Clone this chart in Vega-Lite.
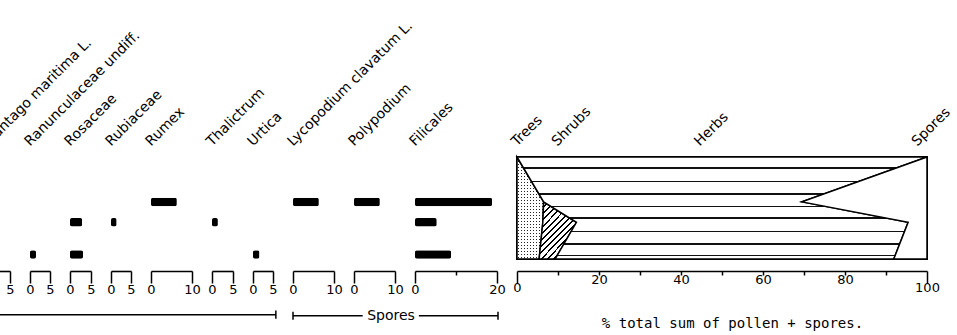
{
  "$schema": "https://vega.github.io/schema/vega-lite/v6.json",
  "padding": {"left": -19, "top": 18, "right": 0, "bottom": 0},
  "bounds": "flush",
  "spacing": 20,
  "background": "white",
  "datasets": {
    "bars": [
      {"taxon": "Ranunculaceae undiff.", "depth": 95.5, "pct": 1.5},
      {"taxon": "Rosaceae", "depth": 64, "pct": 2.9},
      {"taxon": "Rosaceae", "depth": 95.5, "pct": 3.1},
      {"taxon": "Rubiaceae", "depth": 64, "pct": 1.4},
      {"taxon": "Rumex", "depth": 44, "pct": 6.3},
      {"taxon": "Thalictrum", "depth": 64, "pct": 1.4},
      {"taxon": "Urtica", "depth": 95.5, "pct": 1.6},
      {"taxon": "Lycopodium clavatum L.", "depth": 44, "pct": 6.3},
      {"taxon": "Polypodium", "depth": 44, "pct": 6.3},
      {"taxon": "Filicales", "depth": 44, "pct": 18.8},
      {"taxon": "Filicales", "depth": 64, "pct": 5.3},
      {"taxon": "Filicales", "depth": 95.5, "pct": 8.8}
    ],
    "taxa": [
      {"taxon": "Plantago maritima L."},
      {"taxon": "Ranunculaceae undiff."},
      {"taxon": "Rosaceae"},
      {"taxon": "Rubiaceae"},
      {"taxon": "Rumex"},
      {"taxon": "Thalictrum"},
      {"taxon": "Urtica"},
      {"taxon": "Lycopodium clavatum L."},
      {"taxon": "Polypodium"},
      {"taxon": "Filicales"}
    ],
    "summary": [
      {"depth": 0, "group": "Trees", "order": 1, "pct": 0},
      {"depth": 0, "group": "Herbs", "order": 3, "pct": 100},
      {"depth": 0, "group": "Spores", "order": 4, "pct": 0},
      {"depth": 44, "group": "Trees", "order": 1, "pct": 6.5},
      {"depth": 44, "group": "Shrubs", "order": 2, "pct": 0},
      {"depth": 44, "group": "Herbs", "order": 3, "pct": 63},
      {"depth": 44, "group": "Spores", "order": 4, "pct": 30.5},
      {"depth": 64, "group": "Trees", "order": 1, "pct": 6.3},
      {"depth": 64, "group": "Shrubs", "order": 2, "pct": 8.2},
      {"depth": 64, "group": "Herbs", "order": 3, "pct": 80.9},
      {"depth": 64, "group": "Spores", "order": 4, "pct": 4.6},
      {"depth": 100, "group": "Trees", "order": 1, "pct": 5.4},
      {"depth": 100, "group": "Shrubs", "order": 2, "pct": 3.9},
      {"depth": 100, "group": "Herbs", "order": 3, "pct": 82.6},
      {"depth": 100, "group": "Spores", "order": 4, "pct": 8.1}
    ],
    "groups": [
      {"group": "Trees"}, {"group": "Shrubs"}, {"group": "Herbs"}, {"group": "Spores"}
    ]
  },
  "hconcat": [
    {
      "width": 21, "height": 102,
      "layer": [
        {"data": {"name": "bars"}, "transform": [{"filter": "datum.taxon == 'Plantago maritima L.'"}], "mark": {"type": "bar", "orient": "horizontal", "size": 8.5, "color": "black", "cornerRadius": 2},
          "encoding": {
            "x": {"field": "pct", "type": "quantitative", "scale": {"domain": [0, 5]},
              "axis": {"title": null, "values": [0, 5], "tickSize": {"condition": {"test": "datum.value == 0 || datum.value == 5", "value": 12}, "value": 4}, "labelExpr": "datum.value == 5 ? datum.label : ''"}},
            "y": {"field": "depth", "type": "quantitative", "scale": {"domain": [0, 100], "reverse": true, "padding": 0}, "axis": null}}},
        {"data": {"name": "taxa"}, "transform": [{"filter": "datum.taxon == 'Plantago maritima L.'"}], "mark": {"type": "text", "angle": -45, "align": "left", "baseline": "alphabetic"},
          "encoding": {"x": {"datum": 0, "type": "quantitative", "scale": {"domain": [0, 5]}}, "y": {"datum": -10, "type": "quantitative", "scale": {"domain": [0, 100], "reverse": true, "padding": 0}}, "text": {"field": "taxon"}}},
        {"data": {"name": "taxa"}, "transform": [{"filter": "datum.taxon == 'Plantago maritima L.'"}], "mark": {"type": "rule", "color": "black", "strokeWidth": 1.5},
          "encoding": {"x": {"datum": 0, "type": "quantitative", "scale": {"domain": [0, 5]}}, "x2": {"datum": 68.3}, "y": {"datum": 154.6, "type": "quantitative", "scale": {"domain": [0, 100], "reverse": true, "padding": 0}}}},
        {"data": {"name": "taxa"}, "transform": [{"filter": "datum.taxon == 'Plantago maritima L.'"}], "mark": {"type": "rule", "color": "black", "strokeWidth": 1.5},
          "encoding": {"x": {"datum": 68.3, "type": "quantitative", "scale": {"domain": [0, 5]}}, "y": {"datum": 150.6, "type": "quantitative", "scale": {"domain": [0, 100], "reverse": true, "padding": 0}}, "y2": {"datum": 158.6}}}
      ]
    },
    {
      "width": 20, "height": 102,
      "layer": [
        {"data": {"name": "bars"}, "transform": [{"filter": "datum.taxon == 'Ranunculaceae undiff.'"}], "mark": {"type": "bar", "orient": "horizontal", "size": 8.5, "color": "black", "cornerRadius": 2},
          "encoding": {
            "x": {"field": "pct", "type": "quantitative", "scale": {"domain": [0, 5]},
              "axis": {"title": null, "values": [0, 5], "tickSize": {"condition": {"test": "datum.value == 0 || datum.value == 5", "value": 12}, "value": 4}}},
            "y": {"field": "depth", "type": "quantitative", "scale": {"domain": [0, 100], "reverse": true, "padding": 0}, "axis": null}}},
        {"data": {"name": "taxa"}, "transform": [{"filter": "datum.taxon == 'Ranunculaceae undiff.'"}], "mark": {"type": "text", "angle": -45, "align": "left", "baseline": "alphabetic"},
          "encoding": {"x": {"datum": 0, "type": "quantitative", "scale": {"domain": [0, 5]}}, "y": {"datum": -10, "type": "quantitative", "scale": {"domain": [0, 100], "reverse": true, "padding": 0}}, "text": {"field": "taxon"}}}
      ]
    },
    {
      "width": 21, "height": 102,
      "layer": [
        {"data": {"name": "bars"}, "transform": [{"filter": "datum.taxon == 'Rosaceae'"}], "mark": {"type": "bar", "orient": "horizontal", "size": 8.5, "color": "black", "cornerRadius": 2},
          "encoding": {
            "x": {"field": "pct", "type": "quantitative", "scale": {"domain": [0, 5]},
              "axis": {"title": null, "values": [0, 5], "tickSize": {"condition": {"test": "datum.value == 0 || datum.value == 5", "value": 12}, "value": 4}}},
            "y": {"field": "depth", "type": "quantitative", "scale": {"domain": [0, 100], "reverse": true, "padding": 0}, "axis": null}}},
        {"data": {"name": "taxa"}, "transform": [{"filter": "datum.taxon == 'Rosaceae'"}], "mark": {"type": "text", "angle": -45, "align": "left", "baseline": "alphabetic"},
          "encoding": {"x": {"datum": 0, "type": "quantitative", "scale": {"domain": [0, 5]}}, "y": {"datum": -10, "type": "quantitative", "scale": {"domain": [0, 100], "reverse": true, "padding": 0}}, "text": {"field": "taxon"}}}
      ]
    },
    {
      "width": 20, "height": 102,
      "layer": [
        {"data": {"name": "bars"}, "transform": [{"filter": "datum.taxon == 'Rubiaceae'"}], "mark": {"type": "bar", "orient": "horizontal", "size": 8.5, "color": "black", "cornerRadius": 2},
          "encoding": {
            "x": {"field": "pct", "type": "quantitative", "scale": {"domain": [0, 5]},
              "axis": {"title": null, "values": [0, 5], "tickSize": {"condition": {"test": "datum.value == 0 || datum.value == 5", "value": 12}, "value": 4}}},
            "y": {"field": "depth", "type": "quantitative", "scale": {"domain": [0, 100], "reverse": true, "padding": 0}, "axis": null}}},
        {"data": {"name": "taxa"}, "transform": [{"filter": "datum.taxon == 'Rubiaceae'"}], "mark": {"type": "text", "angle": -45, "align": "left", "baseline": "alphabetic"},
          "encoding": {"x": {"datum": 0, "type": "quantitative", "scale": {"domain": [0, 5]}}, "y": {"datum": -10, "type": "quantitative", "scale": {"domain": [0, 100], "reverse": true, "padding": 0}}, "text": {"field": "taxon"}}}
      ]
    },
    {
      "width": 41, "height": 102,
      "layer": [
        {"data": {"name": "bars"}, "transform": [{"filter": "datum.taxon == 'Rumex'"}], "mark": {"type": "bar", "orient": "horizontal", "size": 8.5, "color": "black", "cornerRadius": 2},
          "encoding": {
            "x": {"field": "pct", "type": "quantitative", "scale": {"domain": [0, 10]},
              "axis": {"title": null, "values": [0, 5, 10], "tickSize": {"condition": {"test": "datum.value == 0 || datum.value == 10", "value": 12}, "value": 4}, "labelExpr": "datum.value == 5 ? '' : datum.label"}},
            "y": {"field": "depth", "type": "quantitative", "scale": {"domain": [0, 100], "reverse": true, "padding": 0}, "axis": null}}},
        {"data": {"name": "taxa"}, "transform": [{"filter": "datum.taxon == 'Rumex'"}], "mark": {"type": "text", "angle": -45, "align": "left", "baseline": "alphabetic"},
          "encoding": {"x": {"datum": 0, "type": "quantitative", "scale": {"domain": [0, 10]}}, "y": {"datum": -10, "type": "quantitative", "scale": {"domain": [0, 100], "reverse": true, "padding": 0}}, "text": {"field": "taxon"}}}
      ]
    },
    {
      "width": 21, "height": 102,
      "layer": [
        {"data": {"name": "bars"}, "transform": [{"filter": "datum.taxon == 'Thalictrum'"}], "mark": {"type": "bar", "orient": "horizontal", "size": 8.5, "color": "black", "cornerRadius": 2},
          "encoding": {
            "x": {"field": "pct", "type": "quantitative", "scale": {"domain": [0, 5]},
              "axis": {"title": null, "values": [0, 5], "tickSize": {"condition": {"test": "datum.value == 0 || datum.value == 5", "value": 12}, "value": 4}}},
            "y": {"field": "depth", "type": "quantitative", "scale": {"domain": [0, 100], "reverse": true, "padding": 0}, "axis": null}}},
        {"data": {"name": "taxa"}, "transform": [{"filter": "datum.taxon == 'Thalictrum'"}], "mark": {"type": "text", "angle": -45, "align": "left", "baseline": "alphabetic"},
          "encoding": {"x": {"datum": 0, "type": "quantitative", "scale": {"domain": [0, 5]}}, "y": {"datum": -10, "type": "quantitative", "scale": {"domain": [0, 100], "reverse": true, "padding": 0}}, "text": {"field": "taxon"}}}
      ]
    },
    {
      "width": 20, "height": 102,
      "layer": [
        {"data": {"name": "bars"}, "transform": [{"filter": "datum.taxon == 'Urtica'"}], "mark": {"type": "bar", "orient": "horizontal", "size": 8.5, "color": "black", "cornerRadius": 2},
          "encoding": {
            "x": {"field": "pct", "type": "quantitative", "scale": {"domain": [0, 5]},
              "axis": {"title": null, "values": [0, 5], "tickSize": {"condition": {"test": "datum.value == 0 || datum.value == 5", "value": 12}, "value": 4}}},
            "y": {"field": "depth", "type": "quantitative", "scale": {"domain": [0, 100], "reverse": true, "padding": 0}, "axis": null}}},
        {"data": {"name": "taxa"}, "transform": [{"filter": "datum.taxon == 'Urtica'"}], "mark": {"type": "text", "angle": -45, "align": "left", "baseline": "alphabetic"},
          "encoding": {"x": {"datum": 0, "type": "quantitative", "scale": {"domain": [0, 5]}}, "y": {"datum": -10, "type": "quantitative", "scale": {"domain": [0, 100], "reverse": true, "padding": 0}}, "text": {"field": "taxon"}}}
      ]
    },
    {
      "width": 41, "height": 102,
      "layer": [
        {"data": {"name": "bars"}, "transform": [{"filter": "datum.taxon == 'Lycopodium clavatum L.'"}], "mark": {"type": "bar", "orient": "horizontal", "size": 8.5, "color": "black", "cornerRadius": 2},
          "encoding": {
            "x": {"field": "pct", "type": "quantitative", "scale": {"domain": [0, 10]},
              "axis": {"title": null, "values": [0, 5, 10], "tickSize": {"condition": {"test": "datum.value == 0 || datum.value == 10", "value": 12}, "value": 4}, "labelExpr": "datum.value == 5 ? '' : datum.label"}},
            "y": {"field": "depth", "type": "quantitative", "scale": {"domain": [0, 100], "reverse": true, "padding": 0}, "axis": null}}},
        {"data": {"name": "taxa"}, "transform": [{"filter": "datum.taxon == 'Lycopodium clavatum L.'"}], "mark": {"type": "text", "angle": -45, "align": "left", "baseline": "alphabetic"},
          "encoding": {"x": {"datum": 0, "type": "quantitative", "scale": {"domain": [0, 10]}}, "y": {"datum": -10, "type": "quantitative", "scale": {"domain": [0, 100], "reverse": true, "padding": 0}}, "text": {"field": "taxon"}}},
        {"data": {"name": "taxa"}, "transform": [{"filter": "datum.taxon == 'Lycopodium clavatum L.'"}], "mark": {"type": "rule", "color": "black", "strokeWidth": 1.5},
          "encoding": {"x": {"datum": 0, "type": "quantitative", "scale": {"domain": [0, 10]}}, "x2": {"datum": 17}, "y": {"datum": 155.6, "type": "quantitative", "scale": {"domain": [0, 100], "reverse": true, "padding": 0}}}},
        {"data": {"name": "taxa"}, "transform": [{"filter": "datum.taxon == 'Lycopodium clavatum L.'"}], "mark": {"type": "rule", "color": "black", "strokeWidth": 1.5},
          "encoding": {"x": {"datum": 30.7, "type": "quantitative", "scale": {"domain": [0, 10]}}, "x2": {"datum": 50}, "y": {"datum": 155.6, "type": "quantitative", "scale": {"domain": [0, 100], "reverse": true, "padding": 0}}}},
        {"data": {"name": "taxa"}, "transform": [{"filter": "datum.taxon == 'Lycopodium clavatum L.'"}], "mark": {"type": "rule", "color": "black", "strokeWidth": 1.5},
          "encoding": {"x": {"datum": 0, "type": "quantitative", "scale": {"domain": [0, 10]}}, "y": {"datum": 151.7, "type": "quantitative", "scale": {"domain": [0, 100], "reverse": true, "padding": 0}}, "y2": {"datum": 159.5}}},
        {"data": {"name": "taxa"}, "transform": [{"filter": "datum.taxon == 'Lycopodium clavatum L.'"}], "mark": {"type": "rule", "color": "black", "strokeWidth": 1.5},
          "encoding": {"x": {"datum": 50, "type": "quantitative", "scale": {"domain": [0, 10]}}, "y": {"datum": 151.7, "type": "quantitative", "scale": {"domain": [0, 100], "reverse": true, "padding": 0}}, "y2": {"datum": 159.5}}},
        {"data": {"name": "taxa"}, "transform": [{"filter": "datum.taxon == 'Lycopodium clavatum L.'"}], "mark": {"type": "text", "align": "center", "baseline": "middle"},
          "encoding": {"x": {"datum": 23.9, "type": "quantitative", "scale": {"domain": [0, 10]}}, "y": {"datum": 155.6, "type": "quantitative", "scale": {"domain": [0, 100], "reverse": true, "padding": 0}}, "text": {"value": "Spores"}}}
      ]
    },
    {
      "width": 41, "height": 102,
      "layer": [
        {"data": {"name": "bars"}, "transform": [{"filter": "datum.taxon == 'Polypodium'"}], "mark": {"type": "bar", "orient": "horizontal", "size": 8.5, "color": "black", "cornerRadius": 2},
          "encoding": {
            "x": {"field": "pct", "type": "quantitative", "scale": {"domain": [0, 10]},
              "axis": {"title": null, "values": [0, 5, 10], "tickSize": {"condition": {"test": "datum.value == 0 || datum.value == 10", "value": 12}, "value": 4}, "labelExpr": "datum.value == 5 ? '' : datum.label"}},
            "y": {"field": "depth", "type": "quantitative", "scale": {"domain": [0, 100], "reverse": true, "padding": 0}, "axis": null}}},
        {"data": {"name": "taxa"}, "transform": [{"filter": "datum.taxon == 'Polypodium'"}], "mark": {"type": "text", "angle": -45, "align": "left", "baseline": "alphabetic"},
          "encoding": {"x": {"datum": 0, "type": "quantitative", "scale": {"domain": [0, 10]}}, "y": {"datum": -10, "type": "quantitative", "scale": {"domain": [0, 100], "reverse": true, "padding": 0}}, "text": {"field": "taxon"}}}
      ]
    },
    {
      "width": 82, "height": 102,
      "layer": [
        {"data": {"name": "bars"}, "transform": [{"filter": "datum.taxon == 'Filicales'"}], "mark": {"type": "bar", "orient": "horizontal", "size": 8.5, "color": "black", "cornerRadius": 2},
          "encoding": {
            "x": {"field": "pct", "type": "quantitative", "scale": {"domain": [0, 20]},
              "axis": {"title": null, "values": [0, 5, 10, 15, 20], "tickSize": {"condition": {"test": "datum.value == 0 || datum.value == 20", "value": 12}, "value": 4}, "labelExpr": "datum.value == 0 || datum.value == 20 ? datum.label : ''"}},
            "y": {"field": "depth", "type": "quantitative", "scale": {"domain": [0, 100], "reverse": true, "padding": 0}, "axis": null}}},
        {"data": {"name": "taxa"}, "transform": [{"filter": "datum.taxon == 'Filicales'"}], "mark": {"type": "text", "angle": -45, "align": "left", "baseline": "alphabetic"},
          "encoding": {"x": {"datum": 0, "type": "quantitative", "scale": {"domain": [0, 20]}}, "y": {"datum": -10, "type": "quantitative", "scale": {"domain": [0, 100], "reverse": true, "padding": 0}}, "text": {"field": "taxon"}}}
      ]
    },
    {
      "width": 410, "height": 102,
      "view": {"stroke": "black", "strokeWidth": 2},
      "layer": [
        {"data": {"name": "summary"}, "transform": [{"stack": "pct", "groupby": ["depth"], "sort": [{"field": "order", "order": "ascending"}], "as": ["x0", "x1"]}, {"filter": "datum.group == 'Trees'"}],
          "mark": {"type": "area", "orient": "horizontal",
          "fill": {"gradient": "linear", "x1": 0, "y1": 0, "x2": 0, "y2": 1, "stops": [
            {"offset": 0, "color": "white"},
            {"offset": 0.010, "color": "white"}, {"offset": 0.010, "color": "#222"}, {"offset": 0.022, "color": "#222"}, {"offset": 0.022, "color": "white"},
            {"offset": 0.039, "color": "white"}, {"offset": 0.039, "color": "#222"}, {"offset": 0.051, "color": "#222"}, {"offset": 0.051, "color": "white"},
            {"offset": 0.069, "color": "white"}, {"offset": 0.069, "color": "#222"}, {"offset": 0.081, "color": "#222"}, {"offset": 0.081, "color": "white"},
            {"offset": 0.098, "color": "white"}, {"offset": 0.098, "color": "#222"}, {"offset": 0.110, "color": "#222"}, {"offset": 0.110, "color": "white"},
            {"offset": 0.128, "color": "white"}, {"offset": 0.128, "color": "#222"}, {"offset": 0.140, "color": "#222"}, {"offset": 0.140, "color": "white"},
            {"offset": 0.157, "color": "white"}, {"offset": 0.157, "color": "#222"}, {"offset": 0.169, "color": "#222"}, {"offset": 0.169, "color": "white"},
            {"offset": 0.186, "color": "white"}, {"offset": 0.186, "color": "#222"}, {"offset": 0.198, "color": "#222"}, {"offset": 0.198, "color": "white"},
            {"offset": 0.216, "color": "white"}, {"offset": 0.216, "color": "#222"}, {"offset": 0.228, "color": "#222"}, {"offset": 0.228, "color": "white"},
            {"offset": 0.245, "color": "white"}, {"offset": 0.245, "color": "#222"}, {"offset": 0.257, "color": "#222"}, {"offset": 0.257, "color": "white"},
            {"offset": 0.275, "color": "white"}, {"offset": 0.275, "color": "#222"}, {"offset": 0.287, "color": "#222"}, {"offset": 0.287, "color": "white"},
            {"offset": 0.304, "color": "white"}, {"offset": 0.304, "color": "#222"}, {"offset": 0.316, "color": "#222"}, {"offset": 0.316, "color": "white"},
            {"offset": 0.333, "color": "white"}, {"offset": 0.333, "color": "#222"}, {"offset": 0.345, "color": "#222"}, {"offset": 0.345, "color": "white"},
            {"offset": 0.363, "color": "white"}, {"offset": 0.363, "color": "#222"}, {"offset": 0.375, "color": "#222"}, {"offset": 0.375, "color": "white"},
            {"offset": 0.392, "color": "white"}, {"offset": 0.392, "color": "#222"}, {"offset": 0.404, "color": "#222"}, {"offset": 0.404, "color": "white"},
            {"offset": 0.422, "color": "white"}, {"offset": 0.422, "color": "#222"}, {"offset": 0.434, "color": "#222"}, {"offset": 0.434, "color": "white"},
            {"offset": 0.451, "color": "white"}, {"offset": 0.451, "color": "#222"}, {"offset": 0.463, "color": "#222"}, {"offset": 0.463, "color": "white"},
            {"offset": 0.480, "color": "white"}, {"offset": 0.480, "color": "#222"}, {"offset": 0.492, "color": "#222"}, {"offset": 0.492, "color": "white"},
            {"offset": 0.510, "color": "white"}, {"offset": 0.510, "color": "#222"}, {"offset": 0.522, "color": "#222"}, {"offset": 0.522, "color": "white"},
            {"offset": 0.539, "color": "white"}, {"offset": 0.539, "color": "#222"}, {"offset": 0.551, "color": "#222"}, {"offset": 0.551, "color": "white"},
            {"offset": 0.569, "color": "white"}, {"offset": 0.569, "color": "#222"}, {"offset": 0.581, "color": "#222"}, {"offset": 0.581, "color": "white"},
            {"offset": 0.598, "color": "white"}, {"offset": 0.598, "color": "#222"}, {"offset": 0.610, "color": "#222"}, {"offset": 0.610, "color": "white"},
            {"offset": 0.627, "color": "white"}, {"offset": 0.627, "color": "#222"}, {"offset": 0.639, "color": "#222"}, {"offset": 0.639, "color": "white"},
            {"offset": 0.657, "color": "white"}, {"offset": 0.657, "color": "#222"}, {"offset": 0.669, "color": "#222"}, {"offset": 0.669, "color": "white"},
            {"offset": 0.686, "color": "white"}, {"offset": 0.686, "color": "#222"}, {"offset": 0.698, "color": "#222"}, {"offset": 0.698, "color": "white"},
            {"offset": 0.716, "color": "white"}, {"offset": 0.716, "color": "#222"}, {"offset": 0.728, "color": "#222"}, {"offset": 0.728, "color": "white"},
            {"offset": 0.745, "color": "white"}, {"offset": 0.745, "color": "#222"}, {"offset": 0.757, "color": "#222"}, {"offset": 0.757, "color": "white"},
            {"offset": 0.774, "color": "white"}, {"offset": 0.774, "color": "#222"}, {"offset": 0.786, "color": "#222"}, {"offset": 0.786, "color": "white"},
            {"offset": 0.804, "color": "white"}, {"offset": 0.804, "color": "#222"}, {"offset": 0.816, "color": "#222"}, {"offset": 0.816, "color": "white"},
            {"offset": 0.833, "color": "white"}, {"offset": 0.833, "color": "#222"}, {"offset": 0.845, "color": "#222"}, {"offset": 0.845, "color": "white"},
            {"offset": 0.863, "color": "white"}, {"offset": 0.863, "color": "#222"}, {"offset": 0.875, "color": "#222"}, {"offset": 0.875, "color": "white"},
            {"offset": 0.892, "color": "white"}, {"offset": 0.892, "color": "#222"}, {"offset": 0.904, "color": "#222"}, {"offset": 0.904, "color": "white"},
            {"offset": 0.922, "color": "white"}, {"offset": 0.922, "color": "#222"}, {"offset": 0.934, "color": "#222"}, {"offset": 0.934, "color": "white"},
            {"offset": 0.951, "color": "white"}, {"offset": 0.951, "color": "#222"}, {"offset": 0.963, "color": "#222"}, {"offset": 0.963, "color": "white"},
            {"offset": 0.980, "color": "white"}, {"offset": 0.980, "color": "#222"}, {"offset": 0.992, "color": "#222"}, {"offset": 0.992, "color": "white"},
            {"offset": 1, "color": "white"}
          ]}},
          "encoding": {
            "x": {"field": "x0", "type": "quantitative", "scale": {"domain": [0, 100]},
              "axis": {"title": "% total sum of pollen + spores.", "titleFont": "DejaVu Sans Mono", "titleX": 215, "titlePadding": 22, "labelPadding": -2, "values": [0,5,10,15,20,25,30,35,40,45,50,55,60,65,70,75,80,85,90,95,100], "tickSize": {"condition": {"test": "datum.value == 0 || datum.value == 100", "value": 12}, "value": 4}, "labelExpr": "datum.value % 20 == 0 ? datum.label : ''"}},
            "x2": {"field": "x1"},
            "y": {"field": "depth", "type": "quantitative", "scale": {"domain": [0, 100], "reverse": true, "padding": 0}, "axis": null}}},
        {"data": {"name": "summary"}, "transform": [{"stack": "pct", "groupby": ["depth"], "sort": [{"field": "order", "order": "ascending"}], "as": ["x0", "x1"]}, {"filter": "datum.group == 'Trees'"}],
          "mark": {"type": "area", "orient": "horizontal", "stroke": "black", "strokeWidth": 1.5,
          "fill": {"gradient": "linear", "x1": 0, "y1": 0, "x2": 1, "y2": 0, "stops": [
            {"offset": 0, "color": "white"},
            {"offset": 0.030, "color": "white"}, {"offset": 0.030, "color": "rgba(255,255,255,0)"}, {"offset": 0.075, "color": "rgba(255,255,255,0)"}, {"offset": 0.075, "color": "white"},
            {"offset": 0.143, "color": "white"}, {"offset": 0.143, "color": "rgba(255,255,255,0)"}, {"offset": 0.188, "color": "rgba(255,255,255,0)"}, {"offset": 0.188, "color": "white"},
            {"offset": 0.255, "color": "white"}, {"offset": 0.255, "color": "rgba(255,255,255,0)"}, {"offset": 0.300, "color": "rgba(255,255,255,0)"}, {"offset": 0.300, "color": "white"},
            {"offset": 0.368, "color": "white"}, {"offset": 0.368, "color": "rgba(255,255,255,0)"}, {"offset": 0.413, "color": "rgba(255,255,255,0)"}, {"offset": 0.413, "color": "white"},
            {"offset": 0.480, "color": "white"}, {"offset": 0.480, "color": "rgba(255,255,255,0)"}, {"offset": 0.525, "color": "rgba(255,255,255,0)"}, {"offset": 0.525, "color": "white"},
            {"offset": 0.593, "color": "white"}, {"offset": 0.593, "color": "rgba(255,255,255,0)"}, {"offset": 0.638, "color": "rgba(255,255,255,0)"}, {"offset": 0.638, "color": "white"},
            {"offset": 0.706, "color": "white"}, {"offset": 0.706, "color": "rgba(255,255,255,0)"}, {"offset": 0.751, "color": "rgba(255,255,255,0)"}, {"offset": 0.751, "color": "white"},
            {"offset": 0.818, "color": "white"}, {"offset": 0.818, "color": "rgba(255,255,255,0)"}, {"offset": 0.863, "color": "rgba(255,255,255,0)"}, {"offset": 0.863, "color": "white"},
            {"offset": 0.931, "color": "white"}, {"offset": 0.931, "color": "rgba(255,255,255,0)"}, {"offset": 0.976, "color": "rgba(255,255,255,0)"}, {"offset": 0.976, "color": "white"},
            {"offset": 1, "color": "white"}
          ]}},
          "encoding": {
            "x": {"field": "x0", "type": "quantitative", "scale": {"domain": [0, 100]}},
            "x2": {"field": "x1"},
            "y": {"field": "depth", "type": "quantitative", "scale": {"domain": [0, 100], "reverse": true, "padding": 0}}}},
        {"data": {"name": "summary"}, "transform": [{"stack": "pct", "groupby": ["depth"], "sort": [{"field": "order", "order": "ascending"}], "as": ["x0", "x1"]}, {"filter": "datum.group == 'Shrubs'"}],
          "mark": {"type": "area", "orient": "horizontal", "stroke": "black", "strokeWidth": 1.5,
          "fill": {"gradient": "linear", "x1": 0, "y1": 0, "x2": 1, "y2": 1.5, "stops": [
            {"offset": 0, "color": "white"},
            {"offset": 0.02, "color": "white"}, {"offset": 0.02, "color": "black"}, {"offset": 0.036, "color": "black"}, {"offset": 0.036, "color": "white"},
            {"offset": 0.07, "color": "white"}, {"offset": 0.07, "color": "black"}, {"offset": 0.086, "color": "black"}, {"offset": 0.086, "color": "white"},
            {"offset": 0.12, "color": "white"}, {"offset": 0.12, "color": "black"}, {"offset": 0.136, "color": "black"}, {"offset": 0.136, "color": "white"},
            {"offset": 0.17, "color": "white"}, {"offset": 0.17, "color": "black"}, {"offset": 0.186, "color": "black"}, {"offset": 0.186, "color": "white"},
            {"offset": 0.22, "color": "white"}, {"offset": 0.22, "color": "black"}, {"offset": 0.236, "color": "black"}, {"offset": 0.236, "color": "white"},
            {"offset": 0.27, "color": "white"}, {"offset": 0.27, "color": "black"}, {"offset": 0.286, "color": "black"}, {"offset": 0.286, "color": "white"},
            {"offset": 0.32, "color": "white"}, {"offset": 0.32, "color": "black"}, {"offset": 0.336, "color": "black"}, {"offset": 0.336, "color": "white"},
            {"offset": 0.37, "color": "white"}, {"offset": 0.37, "color": "black"}, {"offset": 0.386, "color": "black"}, {"offset": 0.386, "color": "white"},
            {"offset": 0.42, "color": "white"}, {"offset": 0.42, "color": "black"}, {"offset": 0.436, "color": "black"}, {"offset": 0.436, "color": "white"},
            {"offset": 0.47, "color": "white"}, {"offset": 0.47, "color": "black"}, {"offset": 0.486, "color": "black"}, {"offset": 0.486, "color": "white"},
            {"offset": 0.52, "color": "white"}, {"offset": 0.52, "color": "black"}, {"offset": 0.536, "color": "black"}, {"offset": 0.536, "color": "white"},
            {"offset": 0.57, "color": "white"}, {"offset": 0.57, "color": "black"}, {"offset": 0.586, "color": "black"}, {"offset": 0.586, "color": "white"},
            {"offset": 0.62, "color": "white"}, {"offset": 0.62, "color": "black"}, {"offset": 0.636, "color": "black"}, {"offset": 0.636, "color": "white"},
            {"offset": 0.67, "color": "white"}, {"offset": 0.67, "color": "black"}, {"offset": 0.686, "color": "black"}, {"offset": 0.686, "color": "white"},
            {"offset": 0.72, "color": "white"}, {"offset": 0.72, "color": "black"}, {"offset": 0.736, "color": "black"}, {"offset": 0.736, "color": "white"},
            {"offset": 0.77, "color": "white"}, {"offset": 0.77, "color": "black"}, {"offset": 0.786, "color": "black"}, {"offset": 0.786, "color": "white"},
            {"offset": 1, "color": "white"}
          ]}},
          "encoding": {
            "x": {"field": "x0", "type": "quantitative", "scale": {"domain": [0, 100]}},
            "x2": {"field": "x1"},
            "y": {"field": "depth", "type": "quantitative", "scale": {"domain": [0, 100], "reverse": true, "padding": 0}}}},
        {"data": {"name": "summary"}, "transform": [{"stack": "pct", "groupby": ["depth"], "sort": [{"field": "order", "order": "ascending"}], "as": ["x0", "x1"]}, {"filter": "datum.group == 'Herbs'"}],
          "mark": {"type": "area", "orient": "horizontal", "stroke": "black", "strokeWidth": 1.5,
          "fill": {"gradient": "linear", "x1": 0, "y1": 0, "x2": 0, "y2": 1, "stops": [
            {"offset": 0, "color": "white"},
            {"offset": 0.102, "color": "white"}, {"offset": 0.102, "color": "#111"}, {"offset": 0.114, "color": "#111"}, {"offset": 0.114, "color": "white"},
            {"offset": 0.233, "color": "white"}, {"offset": 0.233, "color": "#111"}, {"offset": 0.245, "color": "#111"}, {"offset": 0.245, "color": "white"},
            {"offset": 0.357, "color": "white"}, {"offset": 0.357, "color": "#111"}, {"offset": 0.369, "color": "#111"}, {"offset": 0.369, "color": "white"},
            {"offset": 0.478, "color": "white"}, {"offset": 0.478, "color": "#111"}, {"offset": 0.49, "color": "#111"}, {"offset": 0.49, "color": "white"},
            {"offset": 0.592, "color": "white"}, {"offset": 0.592, "color": "#111"}, {"offset": 0.604, "color": "#111"}, {"offset": 0.604, "color": "white"},
            {"offset": 0.723, "color": "white"}, {"offset": 0.723, "color": "#111"}, {"offset": 0.735, "color": "#111"}, {"offset": 0.735, "color": "white"},
            {"offset": 0.847, "color": "white"}, {"offset": 0.847, "color": "#111"}, {"offset": 0.859, "color": "#111"}, {"offset": 0.859, "color": "white"},
            {"offset": 0.962, "color": "white"}, {"offset": 0.962, "color": "#111"}, {"offset": 0.974, "color": "#111"}, {"offset": 0.974, "color": "white"},
            {"offset": 1, "color": "white"}
          ]}},
          "encoding": {
            "x": {"field": "x0", "type": "quantitative", "scale": {"domain": [0, 100]}},
            "x2": {"field": "x1"},
            "y": {"field": "depth", "type": "quantitative", "scale": {"domain": [0, 100], "reverse": true, "padding": 0}}}},
        {"data": {"name": "summary"}, "transform": [{"stack": "pct", "groupby": ["depth"], "sort": [{"field": "order", "order": "ascending"}], "as": ["x0", "x1"]}, {"filter": "datum.group == 'Spores'"}],
          "mark": {"type": "area", "orient": "horizontal", "fill": "white", "stroke": "black", "strokeWidth": 1.5},
          "encoding": {
            "x": {"field": "x0", "type": "quantitative", "scale": {"domain": [0, 100]}},
            "x2": {"field": "x1"},
            "y": {"field": "depth", "type": "quantitative", "scale": {"domain": [0, 100], "reverse": true, "padding": 0}}}},
        {"data": {"name": "groups"}, "transform": [{"filter": "datum.group == 'Trees'"}], "mark": {"type": "text", "angle": -45, "align": "left", "baseline": "alphabetic"},
          "encoding": {"x": {"datum": 0, "type": "quantitative", "scale": {"domain": [0, 100]}}, "y": {"datum": -10, "type": "quantitative", "scale": {"domain": [0, 100], "reverse": true, "padding": 0}}, "text": {"field": "group"}}},
        {"data": {"name": "groups"}, "transform": [{"filter": "datum.group == 'Shrubs'"}], "mark": {"type": "text", "angle": -45, "align": "left", "baseline": "alphabetic"},
          "encoding": {"x": {"datum": 9.8, "type": "quantitative", "scale": {"domain": [0, 100]}}, "y": {"datum": -10, "type": "quantitative", "scale": {"domain": [0, 100], "reverse": true, "padding": 0}}, "text": {"field": "group"}}},
        {"data": {"name": "groups"}, "transform": [{"filter": "datum.group == 'Herbs'"}], "mark": {"type": "text", "angle": -45, "align": "left", "baseline": "alphabetic"},
          "encoding": {"x": {"datum": 44.6, "type": "quantitative", "scale": {"domain": [0, 100]}}, "y": {"datum": -10, "type": "quantitative", "scale": {"domain": [0, 100], "reverse": true, "padding": 0}}, "text": {"field": "group"}}},
        {"data": {"name": "groups"}, "transform": [{"filter": "datum.group == 'Spores'"}], "mark": {"type": "text", "angle": -45, "align": "left", "baseline": "alphabetic"},
          "encoding": {"x": {"datum": 97.6, "type": "quantitative", "scale": {"domain": [0, 100]}}, "y": {"datum": -10, "type": "quantitative", "scale": {"domain": [0, 100], "reverse": true, "padding": 0}}, "text": {"field": "group"}}}
      ]
    }
  ],
  "config": {
    "font": "DejaVu Sans",
    "view": {"stroke": null},
    "scale": {"continuousPadding": 0},
    "axis": {"domainColor": "black", "domainWidth": 1.6, "tickColor": "black", "tickWidth": 1.5, "labelColor": "black", "labelFont": "DejaVu Sans", "labelFontSize": 13, "labelFlush": false, "labelPadding": 0, "grid": false, "offset": 12, "titleFont": "DejaVu Sans", "titleFontSize": 14, "titleColor": "black", "titleFontWeight": "normal"},
    "text": {"font": "DejaVu Sans", "fontSize": 14, "color": "black"}
  }
}
